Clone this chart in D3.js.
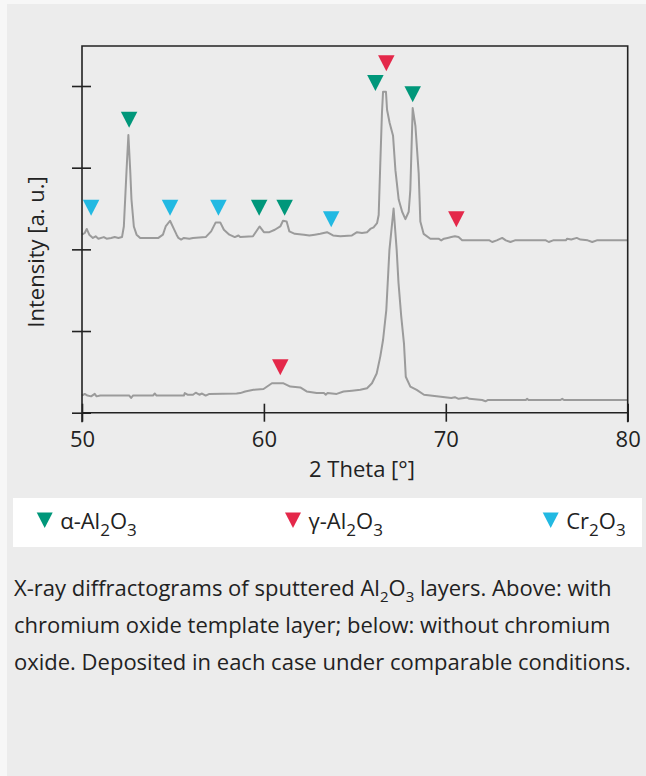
<!DOCTYPE html>
<html><head><meta charset="utf-8">
<script src="https://cdn.jsdelivr.net/npm/d3@7"></script>
<style>
html,body{margin:0;padding:0;background:#f7f7f7;}
svg{display:block;font-family:"Open Sans",sans-serif;}
</style></head><body>
<svg id="chart" width="646" height="776"></svg>
<script>
// ---- data ----
const thetaUpper = [50.0,50.15,50.26,50.4,50.6,50.75,50.9,51.2,51.35,51.6,51.8,52.0,52.2,52.3,52.45,52.55,52.65,52.72,52.85,53.0,53.2,54.2,54.45,54.6,54.84,55.05,55.2,55.3,55.45,55.6,55.9,56.1,56.8,57.1,57.35,57.6,57.8,58.1,58.4,58.6,58.7,59.4,59.76,60.0,60.3,60.6,60.9,61.05,61.25,61.4,61.7,62.2,62.5,62.8,63.1,63.47,63.8,64.2,64.84,65.12,65.39,65.67,65.85,66.03,66.22,66.31,66.4,66.49,66.55,66.71,66.77,66.91,67.1,67.23,67.41,67.6,67.78,67.96,68.05,68.18,68.33,68.51,68.6,68.78,69.15,69.6,69.75,69.9,70.1,70.3,70.5,70.7,70.9,72.4,72.55,72.8,73.1,73.3,73.55,73.8,75.5,75.66,75.9,76.6,76.67,76.9,77.2,77.4,77.8,78.05,78.3,80.0];
const intensityUpper = [2.18,2.20,2.25,2.18,2.14,2.16,2.13,2.15,2.13,2.14,2.15,2.14,2.15,2.28,2.97,3.40,2.97,2.61,2.28,2.18,2.14,2.14,2.18,2.28,2.35,2.25,2.18,2.14,2.12,2.14,2.13,2.14,2.15,2.22,2.33,2.33,2.24,2.18,2.15,2.17,2.15,2.16,2.28,2.21,2.21,2.24,2.28,2.35,2.34,2.22,2.19,2.18,2.17,2.18,2.19,2.21,2.17,2.16,2.17,2.21,2.20,2.21,2.25,2.27,2.32,2.42,3.06,3.67,3.93,3.93,3.71,3.55,3.39,2.97,2.61,2.46,2.37,2.46,2.73,3.73,3.51,2.93,2.34,2.19,2.13,2.13,2.11,2.13,2.14,2.15,2.16,2.15,2.11,2.11,2.09,2.11,2.14,2.11,2.09,2.11,2.11,2.09,2.11,2.11,2.13,2.12,2.14,2.12,2.11,2.09,2.11,2.11];
const thetaLower = [50.0,50.15,50.3,50.5,50.7,50.8,51.0,52.6,52.7,52.8,53.9,54.0,54.1,55.6,55.65,55.8,56.1,56.25,56.45,56.6,56.8,57.0,58.5,58.7,58.97,59.43,59.98,60.44,61.08,61.45,62.0,62.35,62.9,63.3,63.4,63.5,64.0,64.38,64.84,65.3,65.67,65.94,66.2,66.4,66.55,66.73,66.9,67.13,67.3,67.4,67.55,67.7,67.8,68.05,68.4,68.8,69.5,70.3,70.5,70.7,71.0,71.17,71.3,72.0,72.18,72.3,74.4,74.47,74.55,76.3,76.4,76.5,80.0];
const intensityLower = [0.21,0.23,0.21,0.20,0.23,0.20,0.21,0.21,0.18,0.21,0.21,0.235,0.21,0.21,0.24,0.22,0.22,0.245,0.22,0.235,0.21,0.23,0.235,0.24,0.26,0.28,0.29,0.36,0.36,0.32,0.31,0.26,0.24,0.24,0.22,0.24,0.23,0.26,0.27,0.28,0.30,0.36,0.48,0.69,0.89,1.26,1.99,2.50,1.99,1.59,1.18,0.85,0.44,0.32,0.28,0.22,0.20,0.18,0.19,0.17,0.18,0.185,0.17,0.155,0.14,0.155,0.155,0.17,0.155,0.155,0.17,0.155,0.155];

const markerTheta = [50.5,52.59,54.84,57.5,59.74,61.14,63.7,66.13,66.73,68.18,70.58,60.9];
const markerLevel = [2.41,3.49,2.41,2.41,2.41,2.41,2.27,3.94,4.18,3.80,2.27,0.46];
const markerPhase = ["Cr","alpha","Cr","Cr","alpha","alpha","Cr","alpha","gamma","alpha","gamma","gamma"];

const phaseKeys = ["alpha","gamma","Cr"];
const phaseColors = ["#00977a","#e4284a","#22b9e2"];
const legendLabels = [["α-Al","2","O","3"],["γ-Al","2","O","3"],["Cr","2","O","3"]];

const xTicks = [50,60,70,80];
const yTicks = [0,1,2,3,4];
const xTitle = "2 Theta [°]";
const yTitle = "Intensity [a. u.]";
const captionLines = [
  ["X-ray diffractograms of sputtered Al","2","O","3"," layers. Above: with"],
  ["chromium oxide template layer; below: without chromium"],
  ["oxide. Deposited in each case under comparable conditions."]
];

// ---- layout ----
const W = 646, H = 776;
const X0 = 82, X1 = 627.7, YB = 412.7, YT = 46;
const svg = d3.select("#chart");
const ink = "#222";

svg.append("rect").attr("x",7).attr("y",4).attr("width",W-7).attr("height",H-4).attr("fill","#ececec");

const x = d3.scaleLinear().domain([50,80]).range([X0,X1]);
const y = d3.scaleLinear().domain([0,4]).range([YB,86]);
const color = d3.scaleOrdinal().domain(phaseKeys).range(phaseColors);

// curves
const line = d3.line().x(d=>x(d[0])).y(d=>y(d[1]));
const upper = thetaUpper.map((t,i)=>[t,intensityUpper[i]]);
const lower = thetaLower.map((t,i)=>[t,intensityLower[i]]);
[lower, upper].forEach(s=>{
  svg.append("path").datum(s).attr("d",line).attr("fill","none")
    .attr("stroke","#9b9b9b").attr("stroke-width",2).attr("stroke-linejoin","round");
});

// frame
const frame = svg.append("g").attr("stroke",ink).attr("stroke-width",1.6).attr("fill","none");
frame.append("path").attr("d",`M${X0},${YB+9.5}V${YT}H${X1}V${YB+9.5}`);
frame.append("path").attr("d",`M${X0},${YB}H${X1}`);

// axes
const xAxis = d3.axisBottom(x).tickValues(xTicks).tickSize(18).tickPadding(9.5).tickFormat(d3.format("d"));
const gx = svg.append("g").attr("transform",`translate(0,${YB-9})`).call(xAxis);
gx.select(".domain").remove();
gx.selectAll("line").attr("stroke",ink).attr("stroke-width",1.6);
gx.selectAll("text").attr("font-size",22).attr("fill",ink).attr("font-family","'Open Sans',sans-serif");

const yAxis = d3.axisLeft(y).tickValues(yTicks).tickSize(19).tickFormat("");
const gy = svg.append("g").attr("transform",`translate(${X0+9},0)`).call(yAxis);
gy.select(".domain").remove();
gy.selectAll("line").attr("stroke",ink).attr("stroke-width",1.6);

svg.append("text").attr("x",362).attr("y",477).attr("text-anchor","middle")
  .attr("font-size",22).attr("fill",ink).text(xTitle);
svg.append("text").attr("transform",`translate(44,252) rotate(-90)`).attr("text-anchor","middle")
  .attr("font-size",22).attr("fill",ink).text(yTitle);

// markers
const TW = 16.5, TH = 16;
const tri = (cx,tip)=>`M${cx-TW/2},${tip-TH}L${cx+TW/2},${tip-TH}L${cx},${tip}Z`;
svg.append("g").selectAll("path").data(markerTheta.map((t,i)=>({t,l:markerLevel[i],p:markerPhase[i]})))
  .join("path").attr("d",d=>tri(x(d.t),y(d.l))).attr("fill",d=>color(d.p));

// legend
svg.append("rect").attr("x",13).attr("y",498).attr("width",629).attr("height",49).attr("fill","#ffffff");
const legX = [44.7,293,550.7];
phaseKeys.forEach((k,i)=>{
  svg.append("path").attr("d",`M${legX[i]-8},512.5L${legX[i]+8},512.5L${legX[i]},528Z`).attr("fill",color(k));
  const t = svg.append("text").attr("x",legX[i]+15.5).attr("y",529).attr("font-size",22).attr("fill",ink);
  legendLabels[i].forEach((s,j)=>{
    const sub = j%2===1;
    t.append("tspan").attr("font-size",sub?17:22).attr("dy",sub?7:(j>0?-7:0)).text(s);
  });
});

// caption
const capY = [596,633,670];
captionLines.forEach((parts,i)=>{
  const t = svg.append("text").attr("x",14).attr("y",capY[i]).attr("font-size",22).attr("fill",ink);
  let shifted=false;
  parts.forEach(s=>{
    const sub = /^[0-9]$/.test(s);
    let dy = 0;
    if(sub && !shifted){dy=6;shifted=true;}
    else if(!sub && shifted){dy=-6;shifted=false;}
    t.append("tspan").attr("font-size",sub?15:22).attr("dy",dy).text(s);
  });
});
</script>
</body></html>
